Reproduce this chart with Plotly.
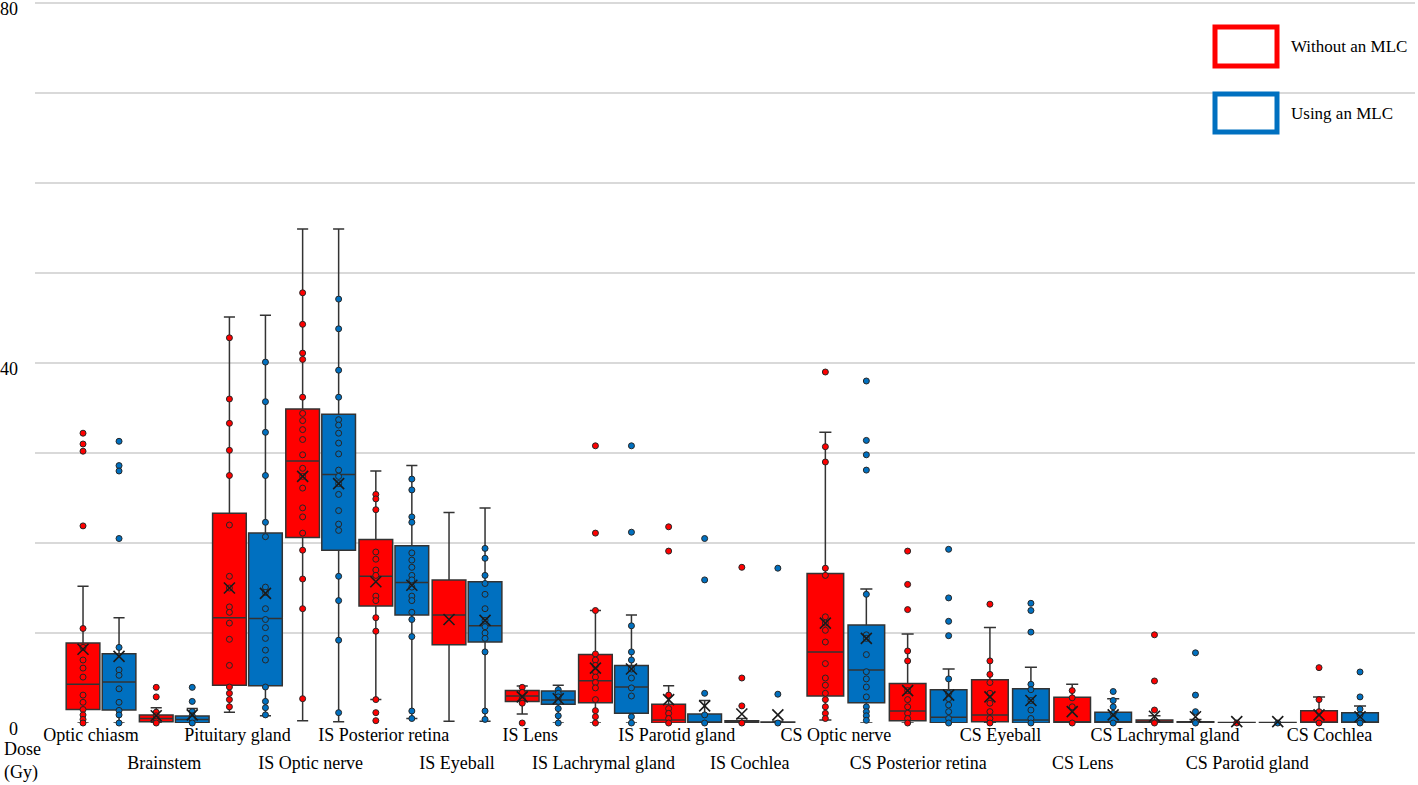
import plotly.graph_objects as go

# ---------------- data ----------------
categories = ["Optic chiasm", "Brainstem", "Pituitary gland", "IS Optic nerve",
              "IS Posterior retina", "IS Eyeball", "IS Lens", "IS Lachrymal gland",
              "IS Parotid gland", "IS Cochlea", "CS Optic nerve", "CS Posterior retina",
              "CS Eyeball", "CS Lens", "CS Lachrymal gland", "CS Parotid gland", "CS Cochlea"]

# Without an MLC (red)
red_q1 = [1.5, 0.15, 4.2, 20.6, 13.0, 8.7, 2.4, 2.26, 0.0, 0.0, 3.0, 0.26, 0.15, 0.0, 0.0, 0.0, 0.0]
red_median = [4.3, 0.5, 11.7, 29.1, 16.3, 12.0, 3.0, 4.7, 0.33, 0.05, 7.9, 1.33, 0.9, 0.15, 0.15, 0.0, 0.1]
red_q3 = [8.9, 0.9, 23.3, 34.9, 20.4, 15.9, 3.6, 7.6, 2.07, 0.26, 16.6, 4.4, 4.8, 2.85, 0.33, 0.05, 1.37]
red_lower = [0.0, 0.0, 1.2, 0.26, 2.6, 0.2, 1.0, 0.0, 0.0, 0.0, 0.33, 0.0, 0.0, 0.0, 0.0, 0.0, 0.0]
red_upper = [15.2, 1.7, 45.1, 54.9, 28.0, 23.4, 4.1, 12.5, 4.15, 0.5, 32.3, 9.9, 10.6, 4.3, 0.8, 0.05, 2.9]
red_mean = [8.2, 0.8, 15.0, 27.4, 15.7, 11.5, 2.9, 6.1, 2.6, 1.0, 11.1, 3.6, 2.9, 1.26, 0.75, 0.15, 0.9]
red_points = [
    [32.2, 31.0, 30.2, 21.9, 10.5, 8.4, 7.0, 6.1, 5.1, 3.1, 2.3, 1.5, 0.9, 0.4, 0.0],
    [3.96, 2.9, 1.2, 0.8, 0.5, 0.2, 0.0],
    [42.8, 36.0, 33.3, 30.3, 27.5, 22.0, 16.3, 15.0, 12.9, 12.3, 11.1, 9.3, 6.4, 4.0, 3.3, 2.6, 1.8],
    [47.8, 44.3, 41.1, 40.4, 36.2, 34.4, 33.6, 32.6, 31.5, 29.8, 28.3, 27.4, 26.1, 23.9, 22.9, 21.1,
     19.2, 16.0, 12.7, 2.7],
    [25.4, 24.9, 23.7, 19.0, 18.2, 17.0, 16.4, 14.1, 13.6, 11.7, 10.2, 2.6, 1.15, 0.26],
    [],
    [3.96, 3.4, 2.7, 2.2, 0.0],
    [30.8, 21.1, 12.5, 7.67, 7.0, 6.4, 5.7, 5.1, 4.5, 3.9, 2.6, 1.37, 0.7, 0.0],
    [21.8, 19.1, 3.1, 1.6, 1.07, 0.5, 0.0],
    [17.3, 5.0, 1.9, 0.0],
    [39.0, 30.7, 29.0, 17.2, 16.4, 11.8, 11.1, 10.3, 9.0, 6.6, 5.0, 4.2, 3.3, 2.6, 1.8, 1.07, 0.5],
    [19.1, 15.4, 12.6, 8.0, 6.9, 3.6, 2.6, 1.8, 1.07, 0.5, 0.0],
    [13.2, 6.9, 5.4, 4.5, 3.3, 2.2, 1.26, 0.5, 0.0],
    [3.6, 2.8, 1.8, 0.0],
    [9.8, 4.67, 1.44, 0.0],
    [0.0],
    [6.15, 2.6, 1.26, 0.0],
]

# Using an MLC (blue)
blue_q1 = [1.44, 0.03, 4.15, 19.2, 12.0, 9.0, 2.07, 1.07, 0.0, 0.0, 2.26, 0.03, 0.0, 0.0, 0.0, 0.0, 0.0]
blue_median = [4.56, 0.4, 11.6, 27.6, 15.6, 10.8, 2.56, 4.0, 0.05, 0.03, 5.9, 0.63, 0.33, 0.15, 0.05, 0.0, 0.1]
blue_q3 = [7.7, 0.78, 21.1, 34.3, 19.7, 15.7, 3.56, 6.4, 1.0, 0.1, 10.9, 3.7, 3.8, 1.2, 0.15, 0.05, 1.15]
blue_lower = [0.0, 0.0, 0.8, 0.15, 0.5, 0.2, 0.0, 0.0, 0.0, 0.0, 0.0, 0.0, 0.0, 0.0, 0.0, 0.0, 0.0]
blue_upper = [11.7, 1.6, 45.3, 54.9, 28.6, 23.9, 4.2, 12.0, 2.5, 0.2, 14.9, 6.0, 6.2, 2.7, 0.4, 0.05, 1.9]
blue_mean = [7.4, 0.9, 14.4, 26.6, 15.3, 11.4, 2.7, 6.0, 1.9, 0.9, 9.4, 3.1, 2.5, 0.9, 0.7, 0.15, 0.7]
blue_points = [
    [31.3, 28.6, 28.0, 20.5, 8.4, 5.9, 5.3, 3.8, 2.3, 1.4, 0.9, 0.0],
    [3.96, 2.4, 1.26, 0.8, 0.4, 0.0],
    [40.1, 35.7, 32.3, 27.5, 22.3, 20.7, 15.1, 14.5, 12.7, 11.5, 10.6, 9.4, 8.1, 7.0, 4.0, 2.4, 1.7, 0.9],
    [47.1, 43.8, 39.2, 36.2, 33.7, 33.1, 32.2, 31.1, 29.9, 28.1, 27.4, 26.6, 25.4, 23.6, 22.1, 21.4,
     16.3, 13.6, 9.2, 1.15],
    [27.1, 25.9, 22.9, 22.3, 18.9, 18.1, 17.3, 16.4, 15.9, 15.1, 14.1, 13.6, 12.3, 11.5, 9.6, 1.33, 0.5],
    [19.4, 18.3, 16.4, 15.5, 14.3, 12.7, 11.4, 10.7, 10.0, 9.4, 7.9, 1.33, 0.4],
    [3.7, 3.3, 2.9, 2.4, 1.6, 0.8, 0.0],
    [30.8, 21.2, 10.8, 7.9, 7.0, 6.0, 5.0, 3.9, 3.0, 0.7, 0.0],
    [20.5, 15.9, 3.3, 0.9, 0.0],
    [17.2, 3.2, 0.0],
    [38.0, 31.4, 29.8, 28.1, 14.3, 9.8, 9.4, 7.6, 5.7, 4.9, 4.0, 2.9, 1.8, 1.26, 0.8, 0.3],
    [19.3, 13.9, 11.3, 9.7, 4.9, 3.3, 2.7, 2.0, 1.26, 0.5, 0.0],
    [13.3, 12.5, 10.1, 4.3, 3.7, 2.5, 1.44, 0.5, 0.0],
    [3.5, 2.5, 1.8, 1.07, 0.0],
    [7.8, 3.1, 1.26, 0.0],
    [0.0],
    [5.67, 2.9, 1.55, 0.9, 0.0],
]

y_tick_values = [0, 10, 20, 30, 40, 50, 60, 70, 80]
y_tick_labels = ["0", "", "", "", "40", "", "", "", "80"]
series_names = ["Without an MLC", "Using an MLC"]

# ---------------- styling / geometry ----------------
RED = "#FF0000"
BLUE = "#0070C0"
EDGE = "#333333"
FONT = "Liberation Serif, Times New Roman, serif"

W, H = 1418, 785
ML, MR, MT, MB = 35, 3, 0, 62
PW, PH = W - ML - MR, H - MT - MB

N1 = 10                        # first block of categories (evenly spaced, step 1)
START2, STEP2 = 10.175, 1.124  # second block is drawn slightly wider
group_pos = [float(i) for i in range(N1)] + \
            [START2 + STEP2 * k for k in range(len(categories) - N1)]
parts = [(0, N1, 0.246, 0.46), (N1, len(categories), 0.28, 0.50)]

fig = go.Figure()

series = [
    (RED, -1, red_q1, red_median, red_q3, red_lower, red_upper, red_mean, red_points),
    (BLUE, 1, blue_q1, blue_median, blue_q3, blue_lower, blue_upper, blue_mean, blue_points),
]

for color, sign, q1, med, q3, lo, hi, mean, pts in series:
    for a, b, off, w in parts:
        xs = [group_pos[i] + sign * off for i in range(a, b)]
        fig.add_trace(go.Box(
            x=xs, q1=q1[a:b], median=med[a:b], q3=q3[a:b],
            lowerfence=lo[a:b], upperfence=hi[a:b],
            orientation="v", width=w, whiskerwidth=0.33,
            fillcolor=color, line=dict(color=EDGE, width=1.5),
            boxpoints=False, showlegend=False, hoverinfo="skip"))

for color, sign, q1, med, q3, lo, hi, mean, pts in series:
    px, py = [], []
    mx = []
    for i in range(len(categories)):
        off = parts[0][2] if i < N1 else parts[1][2]
        xi = group_pos[i] + sign * off
        mx.append(xi)
        for v in pts[i]:
            px.append(xi)
            py.append(v)
    fig.add_trace(go.Scatter(
        x=px, y=py, mode="markers", showlegend=False, hoverinfo="y", cliponaxis=False,
        marker=dict(size=6, color=color, line=dict(color="#262626", width=1))))
    fig.add_trace(go.Scatter(
        x=mx, y=mean, mode="markers", showlegend=False, hoverinfo="y", cliponaxis=False,
        marker=dict(symbol="x-thin", size=11, color="#1a1a1a",
                    line=dict(color="#1a1a1a", width=1.6))))

row1 = [i for i in range(len(categories)) if i % 2 == 0]
row2 = [i for i in range(len(categories)) if i % 2 == 1]
xr = [-0.902, 17.95]
y_top = 80 + 3 * 80 / (PH - 3)   # keeps the 80 gridline just inside the plot

fig.update_layout(
    width=W, height=H,
    margin=dict(l=ML, r=MR, t=MT, b=MB, autoexpand=False),
    paper_bgcolor="white", plot_bgcolor="white",
    font=dict(family=FONT, size=18, color="black"),
    boxmode="overlay",
    xaxis=dict(range=xr, showgrid=False, zeroline=False, showline=False, automargin=False,
               tickmode="array", tickvals=[group_pos[i] for i in row1],
               ticktext=[categories[i] for i in row1], ticks="",
               ticklabelshift=-10, ticklabelstandoff=-1),
    xaxis2=dict(range=xr, overlaying="x", anchor="y", side="bottom", automargin=False,
                showgrid=False, zeroline=False, showline=False,
                tickmode="array", tickvals=[group_pos[i] for i in row2],
                ticktext=[categories[i] for i in row2], ticks="",
                ticklabelshift=-10, ticklabelstandoff=27),
    yaxis=dict(range=[0, y_top], showgrid=True, gridcolor="#D9D9D9", gridwidth=1.5,
               zeroline=False, showline=False, ticks="", automargin=False,
               tickmode="array", tickvals=y_tick_values, ticktext=y_tick_labels,
               ticklabelshift=6, ticklabelstandoff=16, ticklabeloverflow="allow"),
)

# dummy trace so xaxis2 renders
fig.add_trace(go.Scatter(x=[xr[0]], y=[0], xaxis="x2", mode="markers",
                         marker=dict(opacity=0), showlegend=False, hoverinfo="skip"))


def px2x(p):
    return (p - ML) / PW


def px2y(p):
    return (H - MB - p) / PH


# axis unit label
fig.add_annotation(text="Dose<br>(Gy)", xref="paper", yref="paper",
                   x=px2x(2), y=px2y(761), xanchor="left", yanchor="middle",
                   showarrow=False, align="left", font=dict(size=18))

# legend (drawn as outlined swatches with text)
for (color, name, top, bot) in [(RED, series_names[0], 27, 66), (BLUE, series_names[1], 94, 132)]:
    fig.add_shape(type="rect", xref="paper", yref="paper",
                  x0=px2x(1215), x1=px2x(1277), y0=px2y(bot), y1=px2y(top),
                  line=dict(color=color, width=5), fillcolor="white")
    fig.add_annotation(text=name, xref="paper", yref="paper",
                       x=px2x(1289), y=px2y((top + bot) / 2), xanchor="left",
                       yanchor="middle", showarrow=False, font=dict(size=17))

fig.write_html("out.html", config={"displayModeBar": False},
               post_script="document.body.style.margin='0';document.body.style.overflow='hidden';")
